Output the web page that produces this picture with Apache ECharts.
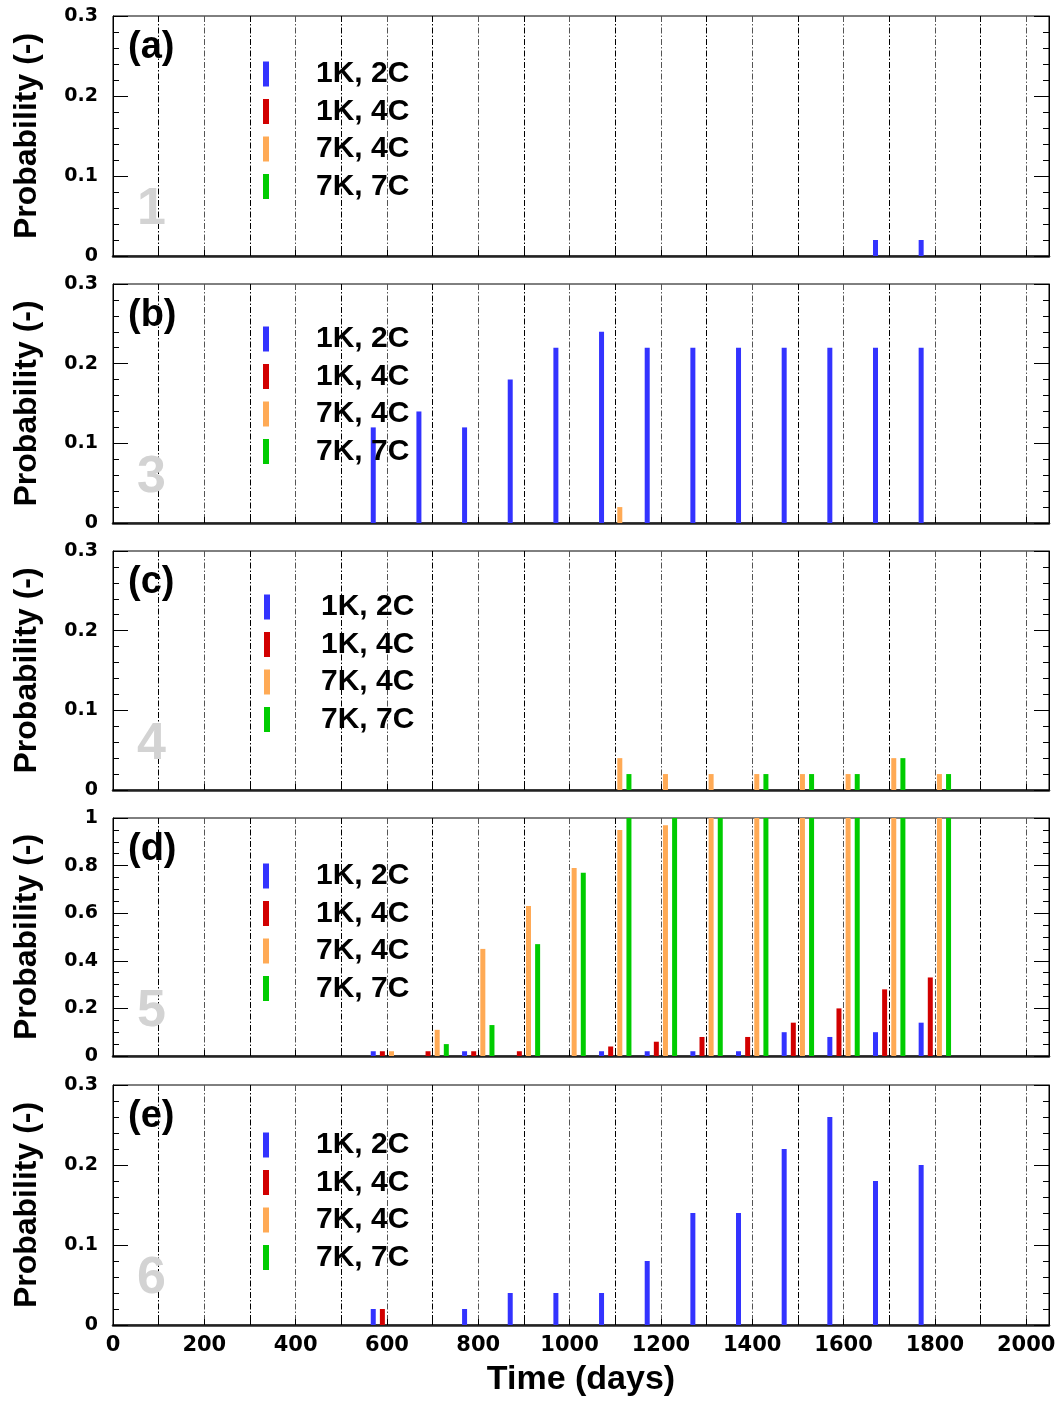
<!DOCTYPE html>
<html><head><meta charset="utf-8">
<script src="https://cdn.jsdelivr.net/npm/echarts@6/dist/echarts.min.js"></script>
<style>html,body{margin:0;padding:0;background:#fff}#c{width:1060px;height:1401px}</style>
</head><body><div id="c"></div>
<script>
// ---- data ----
const xTickLabels = [0,200,400,600,800,1000,1200,1400,1600,1800,2000];
const seriesNames = ['1K, 2C','1K, 4C','7K, 4C','7K, 7C'];
// event times (days) of each series' bars
const days1K2C = [570,670,770,870,970,1070,1170,1270,1370,1470,1570,1670,1770];
const days1K4C = [590,690,790,890,990,1090,1190,1290,1390,1490,1590,1690,1790];
const days7K4C = [610,710,810,910,1010,1110,1210,1310,1410,1510,1610,1710,1810];
const days7K7C = [630,730,830,930,1030,1130,1230,1330,1430,1530,1630,1730,1830];

// panel (a)
const pA_1K2C = [0,0,0,0,0,0,0,0,0,0,0,0.02,0.02];
const pA_1K4C = [0,0,0,0,0,0,0,0,0,0,0,0,0];
const pA_7K4C = [0,0,0,0,0,0,0,0,0,0,0,0,0];
const pA_7K7C = [0,0,0,0,0,0,0,0,0,0,0,0,0];
// panel (b)
const pB_1K2C = [0.12,0.14,0.12,0.18,0.22,0.24,0.22,0.22,0.22,0.22,0.22,0.22,0.22];
const pB_1K4C = [0,0,0,0,0,0,0,0,0,0,0,0,0];
const pB_7K4C = [0,0,0,0,0,0.02,0,0,0,0,0,0,0];
const pB_7K7C = [0,0,0,0,0,0,0,0,0,0,0,0,0];
// panel (c)
const pC_1K2C = [0,0,0,0,0,0,0,0,0,0,0,0,0];
const pC_1K4C = [0,0,0,0,0,0,0,0,0,0,0,0,0];
const pC_7K4C = [0,0,0,0,0,0.04,0.02,0.02,0.02,0.02,0.02,0.04,0.02];
const pC_7K7C = [0,0,0,0,0,0.02,0,0,0.02,0.02,0.02,0.04,0.02];
// panel (d)
const pD_1K2C = [0.02,0,0.02,0,0,0.02,0.02,0.02,0.02,0.10,0.08,0.10,0.14];
const pD_1K4C = [0.02,0.02,0.02,0.02,0,0.04,0.06,0.08,0.08,0.14,0.20,0.28,0.33];
const pD_7K4C = [0.02,0.11,0.45,0.63,0.79,0.95,0.97,1,1,1,1,1,1];
const pD_7K7C = [0,0.05,0.13,0.47,0.77,1,1,1,1,1,1,1,1];
// panel (e)
const pE_1K2C = [0.02,0,0.02,0.04,0.04,0.04,0.08,0.14,0.14,0.22,0.26,0.18,0.20];
const pE_1K4C = [0.02,0,0,0,0,0,0,0,0,0,0,0,0];
const pE_7K4C = [0,0,0,0,0,0,0,0,0,0,0,0,0];
const pE_7K7C = [0,0,0,0,0,0,0,0,0,0,0,0,0];

const panelLabels = ['(a)','(b)','(c)','(d)','(e)'];
const panelNumbers = ['1','3','4','5','6'];
const panelYMax = [0.3,0.3,0.3,1,0.3];
const panelYInterval = [0.1,0.1,0.1,0.2,0.1];

// ---- styling / layout ----
const seriesDays = [days1K2C, days1K4C, days7K4C, days7K7C];
const panelValues = [
  [pA_1K2C,pA_1K4C,pA_7K4C,pA_7K7C],
  [pB_1K2C,pB_1K4C,pB_7K4C,pB_7K7C],
  [pC_1K2C,pC_1K4C,pC_7K4C,pC_7K7C],
  [pD_1K2C,pD_1K4C,pD_7K4C,pD_7K7C],
  [pE_1K2C,pE_1K4C,pE_7K4C,pE_7K7C]
];
const colors = ['#3333FF','#D20000','#FFAA55','#00CC00'];
const tops = [16,284,551,818,1085];
const heights = [240,239,239,238,240];
const minorSplits = [5,5,5,4,5];
const legendOffsets = [43,40,41,43,45];
const legendLefts = [263,263,264,263,263];
const legendPads = [42,42,46,42,42];
const FONT = '"Liberation Sans", Arial, sans-serif';
const NUMFONT = '"DejaVu Sans", sans-serif';
const dashDot = [6,2,1.5,2];

const grids = [], xAxes = [], yAxes = [], series = [], legends = [], titles = [];
for (let p = 0; p < 5; p++) {
  grids.push({left:113, right:11, top:tops[p], height:heights[p], show:true,
    borderColor:'#000', borderWidth:1, containLabel:false});
  const last = p === 4;
  xAxes.push({
    type:'value', gridIndex:p, min:0, max:2050, interval:100,
    axisLine:{show:true, onZero:false, lineStyle:{color:'#222', width:2.5}},
    axisTick:{show:true, inside:true, length:6, lineStyle:{color:'#000'}},
    axisLabel:{show:last, margin:10, color:'#000', fontFamily:NUMFONT, fontWeight:'bold', fontSize:21,
      formatter: v => xTickLabels.indexOf(v) >= 0 ? String(v) : ''},
    splitLine:{show:true, showMinLine:false, showMaxLine:false,
      lineStyle:{color:['#000','#555'], width:1, type:dashDot}},
    name: last ? 'Time (days)' : '', nameLocation:'middle', nameGap:38,
    nameTextStyle:{color:'#000', fontFamily:FONT, fontWeight:'bold', fontSize:34}
  });
  const yCommon = {
    type:'value', gridIndex:p, min:0, max:panelYMax[p], interval:panelYInterval[p],
    axisLine:{show:true, lineStyle:{color:'#000', width:1}},
    axisTick:{show:true, inside:true, length:15, lineStyle:{color:'#000'}},
    minorTick:{show:true, splitNumber:minorSplits[p], length:6, lineStyle:{color:'#000'}},
    splitLine:{show:false}
  };
  yAxes.push(Object.assign({}, yCommon, {
    position:'left',
    axisLabel:{show:true, margin:15, color:'#000', fontFamily:NUMFONT, fontWeight:'bold', fontSize:19},
    name:'Probability (-)', nameLocation:'middle', nameGap:70, nameRotate:90,
    nameTextStyle:{color:'#000', fontFamily:FONT, fontWeight:'bold', fontSize:32}
  }));
  yAxes.push(Object.assign({}, yCommon, {position:'right', axisLabel:{show:false}}));
  for (let s = 0; s < 4; s++) {
    const vals = panelValues[p][s];
    const data = [];
    vals.forEach((v, i) => { if (v > 0) data.push([seriesDays[s][i], v]); });
    series.push({
      type:'bar', name:seriesNames[s], xAxisIndex:p, yAxisIndex:2*p,
      data:data, barWidth:5, barGap:'-100%', itemStyle:{color:colors[s]},
      emphasis:{disabled:true}
    });
  }
  legends.push({
    orient:'vertical', left:legendLefts[p], top:tops[p]+legendOffsets[p], padding:0,
    itemWidth:6, itemHeight:25, itemGap:7.5, selectedMode:false,
    data:seriesNames.map(n => ({name:n, icon:'rect'})),
    textStyle:{color:'#000', fontFamily:FONT, fontWeight:'bold', fontSize:30, lineHeight:25,
      padding:[0,0,0,legendPads[p]]}
  });
  titles.push({text:panelLabels[p], left:128, top:tops[p]+13, padding:0,
    textStyle:{color:'#000', fontFamily:FONT, fontWeight:'bold', fontSize:38}});
  titles.push({text:panelNumbers[p], left:137, top:tops[p]+168, padding:0,
    textStyle:{color:'#D3D3D3', fontFamily:FONT, fontWeight:'bold', fontSize:52}});
}

const chart = echarts.init(document.getElementById('c'), null, {renderer:'canvas'});
chart.setOption({
  animation:false, backgroundColor:'#fff',
  grid:grids, xAxis:xAxes, yAxis:yAxes, series:series, legend:legends, title:titles
});
</script>
</body></html>
